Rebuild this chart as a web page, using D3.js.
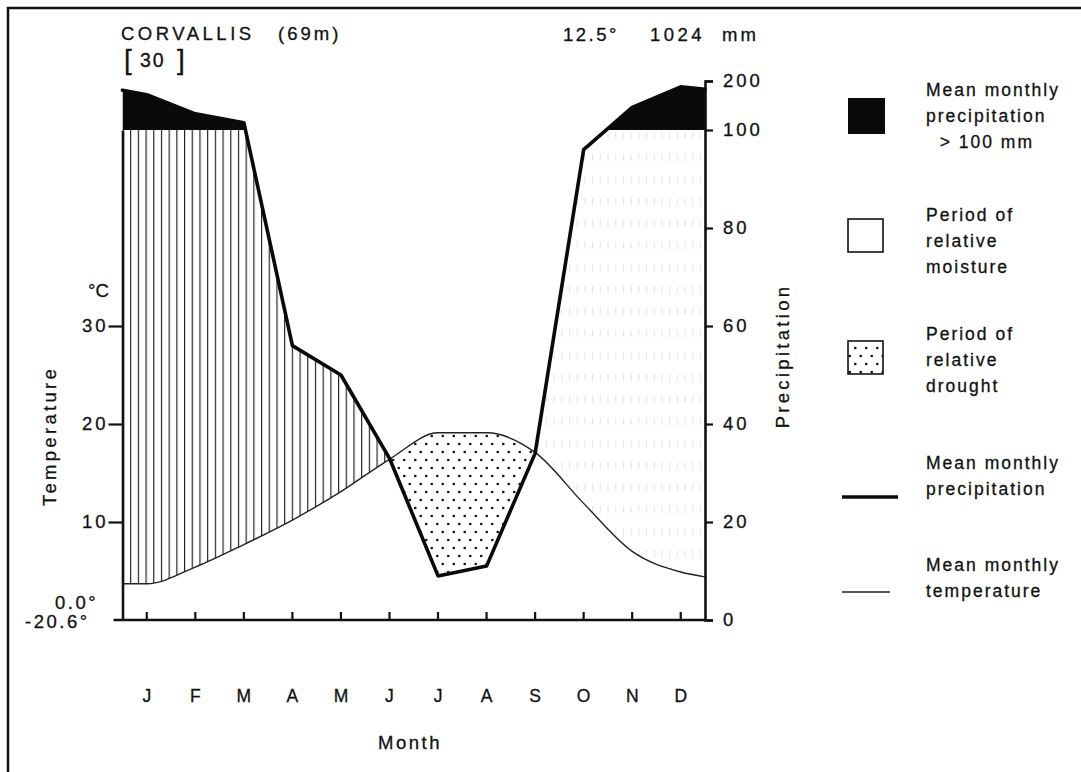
<!DOCTYPE html>
<html>
<head>
<meta charset="utf-8">
<script src="https://cdn.jsdelivr.net/npm/d3@7"></script>
<style>
  html, body { margin: 0; padding: 0; background: #fff; }
  svg { display: block; }
  text { font-family: "Liberation Sans", Arial, Helvetica, sans-serif; fill: #111; stroke: #111; stroke-width: 0.3px; }
</style>
</head>
<body>
<svg id="chart" width="1081" height="772"></svg>
<script>
// ---------------- data ----------------
const months = ["J","F","M","A","M","J","J","A","S","O","N","D"];
const temperature = [3.7, 5.4, 7.7, 10.2, 13.1, 16.4, 19.1, 19.1, 17.1, 11.9, 7.0, 4.9];   // °C
const precipitation = [172, 133, 115, 56, 50, 33, 9, 11, 34, 96, 146, 188];              // mm
const tempEdges = [3.7, 4.4];        // curve value at left / right frame edge
const precipEdges = [181, 183];      // curve value at left / right frame edge
const precipTicks = [0, 20, 40, 60, 80, 100, 200];
const tempTicks = [10, 20, 30];
const station = "CORVALLIS";
const elevation = "(69m)";
const years = "30";
const annualTemp = "12.5°";
const annualPrecip = "1024";
const minTemps = ["0.0°", "-20.6°"];
const legendItems = [
  {type: "black",   lines: ["Mean monthly", "precipitation", "  > 100 mm"]},
  {type: "moist",   lines: ["Period of", "relative", "moisture"]},
  {type: "drought", lines: ["Period of", "relative", "drought"]},
  {type: "thick",   lines: ["Mean monthly", "precipitation"]},
  {type: "thin",    lines: ["Mean monthly", "temperature"]}
];

// ---------------- layout ----------------
const svg = d3.select("#chart");
const X0 = 122.5, X1 = 705, YB = 620;
const FONT = "'Liberation Sans', Arial, Helvetica, sans-serif";

const xb = d3.scaleBand().domain(d3.range(12)).range([X0, X1]).paddingInner(0).paddingOuter(0);
const xc = i => xb(i) + xb.bandwidth() / 2;
const yP = d3.scaleLinear().domain([0, 100, 200]).range([YB, 130, 81]);
const yT = d3.scaleLinear().domain([0, 50]).range([YB, 130]);   // 10 °C = 20 mm

const pts = [{x: X0, p: precipEdges[0], t: tempEdges[0]}]
  .concat(months.map((m, i) => ({x: xc(i), p: precipitation[i], t: temperature[i]})))
  .concat([{x: X1, p: precipEdges[1], t: tempEdges[1]}]);

const defs = svg.append("defs");

// patterns
const hatch = defs.append("pattern").attr("id", "hatch").attr("patternUnits", "userSpaceOnUse")
  .attr("x", 130.1).attr("y", 0).attr("width", 7.7).attr("height", 10);
hatch.append("line").attr("x1", 0.6).attr("x2", 0.6).attr("y1", 0).attr("y2", 10)
  .attr("stroke", "#111").attr("stroke-width", 1.1);

const hatchFaint = defs.append("pattern").attr("id", "hatchFaint").attr("patternUnits", "userSpaceOnUse")
  .attr("x", 130.1).attr("y", 0).attr("width", 7.7).attr("height", 22);
hatchFaint.append("line").attr("x1", 0.6).attr("x2", 0.6).attr("y1", 0).attr("y2", 7)
  .attr("stroke", "#e2e2e2").attr("stroke-width", 1);

const dots = defs.append("pattern").attr("id", "dots").attr("patternUnits", "userSpaceOnUse")
  .attr("x", 0).attr("y", 0).attr("width", 11).attr("height", 16);
dots.append("circle").attr("cx", 2.75).attr("cy", 4).attr("r", 1.3).attr("fill", "#111");
dots.append("circle").attr("cx", 8.25).attr("cy", 12).attr("r", 1.3).attr("fill", "#111");

// clip paths built from the two curves
const tempCurve = d3.curveMonotoneX;
const belowPrecip = d3.area().x(d => d.x).y0(YB + 5).y1(d => yP(d.p));
const abovePrecip = d3.area().x(d => d.x).y0(0).y1(d => yP(d.p));
const belowTemp = d3.area().x(d => d.x).y0(YB + 5).y1(d => yT(d.t)).curve(tempCurve);
const aboveTemp = d3.area().x(d => d.x).y0(0).y1(d => yT(d.t)).curve(tempCurve);

defs.append("clipPath").attr("id", "cBelowP").append("path").attr("d", belowPrecip(pts));
defs.append("clipPath").attr("id", "cAboveP").append("path").attr("d", abovePrecip(pts));
defs.append("clipPath").attr("id", "cBelowT").append("path").attr("d", belowTemp(pts));
defs.append("clipPath").attr("id", "cAboveT").append("path").attr("d", aboveTemp(pts));

// frame
svg.append("path").attr("d", "M8,772V8H1081").attr("fill", "none")
  .attr("stroke", "#111").attr("stroke-width", 2.5);

// humid period (hatched)
const gHum = svg.append("g").attr("clip-path", "url(#cBelowP)")
  .append("g").attr("clip-path", "url(#cAboveT)");
const xMid = xb(6) + xb.bandwidth();
gHum.append("rect").attr("x", X0).attr("y", yP(100)).attr("width", xMid - X0)
  .attr("height", YB - yP(100)).attr("fill", "url(#hatch)");
gHum.append("rect").attr("x", xMid).attr("y", yP(100)).attr("width", X1 - xMid)
  .attr("height", YB - yP(100)).attr("fill", "url(#hatchFaint)");

// drought period (stippled)
svg.append("g").attr("clip-path", "url(#cAboveP)")
  .append("g").attr("clip-path", "url(#cBelowT)")
  .append("rect").attr("x", X0).attr("y", 0).attr("width", X1 - X0).attr("height", YB)
  .attr("fill", "url(#dots)");

// precipitation > 100 mm (black)
svg.append("g").attr("clip-path", "url(#cBelowP)")
  .append("rect").attr("x", X0).attr("y", 0).attr("width", X1 - X0).attr("height", yP(100))
  .attr("fill", "#0a0a0a");

// temperature line
svg.append("path").attr("d", d3.line().x(d => d.x).y(d => yT(d.t)).curve(tempCurve)(pts))
  .attr("fill", "none").attr("stroke", "#222").attr("stroke-width", 1.4);

// precipitation line
svg.append("path").attr("d", d3.line().x(d => d.x).y(d => yP(d.p))(pts))
  .attr("fill", "none").attr("stroke", "#0a0a0a").attr("stroke-width", 3.6)
  .attr("stroke-linejoin", "round").attr("stroke-linecap", "round");

// ---------------- axes ----------------
function styleAxis(g, fs, ls) {
  g.selectAll("path.domain").attr("stroke", "#111").attr("stroke-width", 2.6);
  g.selectAll(".tick line").attr("stroke", "#111").attr("stroke-width", 2.2);
  g.selectAll("text").attr("font-family", FONT).attr("font-size", fs)
    .attr("letter-spacing", ls).attr("fill", "#111").attr("stroke", "#111").attr("stroke-width", 0.3);
}

// right precipitation axis
const gR = svg.append("g").attr("transform", `translate(${X1},0)`)
  .call(d3.axisRight(yP).tickValues(precipTicks).tickSize(8).tickSizeOuter(8).tickPadding(10));
styleAxis(gR, 18.5, 3);

// left temperature axis
const gL = svg.append("g").attr("transform", `translate(${X0},0)`)
  .call(d3.axisLeft(yT).tickValues(tempTicks).tickSize(14).tickSizeOuter(0).tickPadding(0));
styleAxis(gL, 18.5, 3);

// bottom axis with month ticks
const gB = svg.append("g").attr("transform", `translate(0,${YB})`)
  .call(d3.axisTop(xb).tickSize(8).tickSizeOuter(0).tickFormat(""));
gB.select(".domain").attr("d", `M${X0 - 9},0H${X1}`);
styleAxis(gB, 17, 0);

const gM = svg.append("g").attr("transform", `translate(0,${YB})`)
  .call(d3.axisBottom(xb).tickSize(0).tickPadding(70).tickFormat(i => months[i]));
gM.select(".domain").remove();
styleAxis(gM, 17.5, 0);

// ---------------- texts ----------------
function txt(x, y, s, opt = {}) {
  return svg.append("text").attr("x", x).attr("y", y).text(s)
    .attr("font-family", FONT).attr("font-size", opt.fs || 18.5)
    .attr("letter-spacing", opt.ls == null ? 3 : opt.ls)
    .attr("text-anchor", opt.anchor || "start")
    .attr("transform", opt.rot ? `rotate(-90,${x},${y})` : null);
}

txt(121, 40, station, {ls: 3.5});
txt(278, 40, elevation);
txt(124, 69, "[", {fs: 28, ls: 0});
txt(140, 67, years, {fs: 19.5, ls: 2});
txt(177, 69, "]", {fs: 28, ls: 0});
txt(563, 41, annualTemp, {ls: 2.5});
txt(650, 41, annualPrecip, {ls: 3.5});
txt(722, 41, "mm", {ls: 3});

txt(88, 297, "°C", {ls: 0});
txt(55, 609, minTemps[0], {ls: 2.5});
txt(25, 628, minTemps[1], {ls: 2.5});

txt(56, 436, "Temperature", {anchor: "middle", rot: true, ls: 3.3});
txt(789, 356, "Precipitation", {anchor: "middle", rot: true, ls: 3.3});
txt(410, 749, "Month", {anchor: "middle", ls: 2.5});

// ---------------- legend ----------------
const legendY = [90, 215, 334, 463, 565];   // centre of first text line
const markY = [116, 236, 358, 497, 592];
legendItems.forEach((item, k) => {
  item.lines.forEach((ln, j) => {
    svg.append("text").attr("x", 926).attr("y", legendY[k] + 6 + j * 26)
      .attr("xml:space", "preserve").text(ln)
      .attr("font-family", FONT).attr("font-size", 17.5).attr("letter-spacing", 2);
  });
  const my = markY[k];
  if (item.type === "black") {
    svg.append("rect").attr("x", 848).attr("y", my - 18).attr("width", 37).attr("height", 36).attr("fill", "#0a0a0a");
  } else if (item.type === "moist") {
    svg.append("rect").attr("x", 848).attr("y", my - 17).attr("width", 35).attr("height", 33)
      .attr("fill", "#fff").attr("stroke", "#111").attr("stroke-width", 1.6);
  } else if (item.type === "drought") {
    svg.append("rect").attr("x", 848).attr("y", my - 17).attr("width", 35).attr("height", 33)
      .attr("fill", "url(#dots)").attr("stroke", "#111").attr("stroke-width", 1.6);
  } else if (item.type === "thick") {
    svg.append("line").attr("x1", 842).attr("x2", 898).attr("y1", my).attr("y2", my)
      .attr("stroke", "#0a0a0a").attr("stroke-width", 3.6);
  } else {
    svg.append("line").attr("x1", 842).attr("x2", 890).attr("y1", my).attr("y2", my)
      .attr("stroke", "#222").attr("stroke-width", 1.3);
  }
});
</script>
</body>
</html>
